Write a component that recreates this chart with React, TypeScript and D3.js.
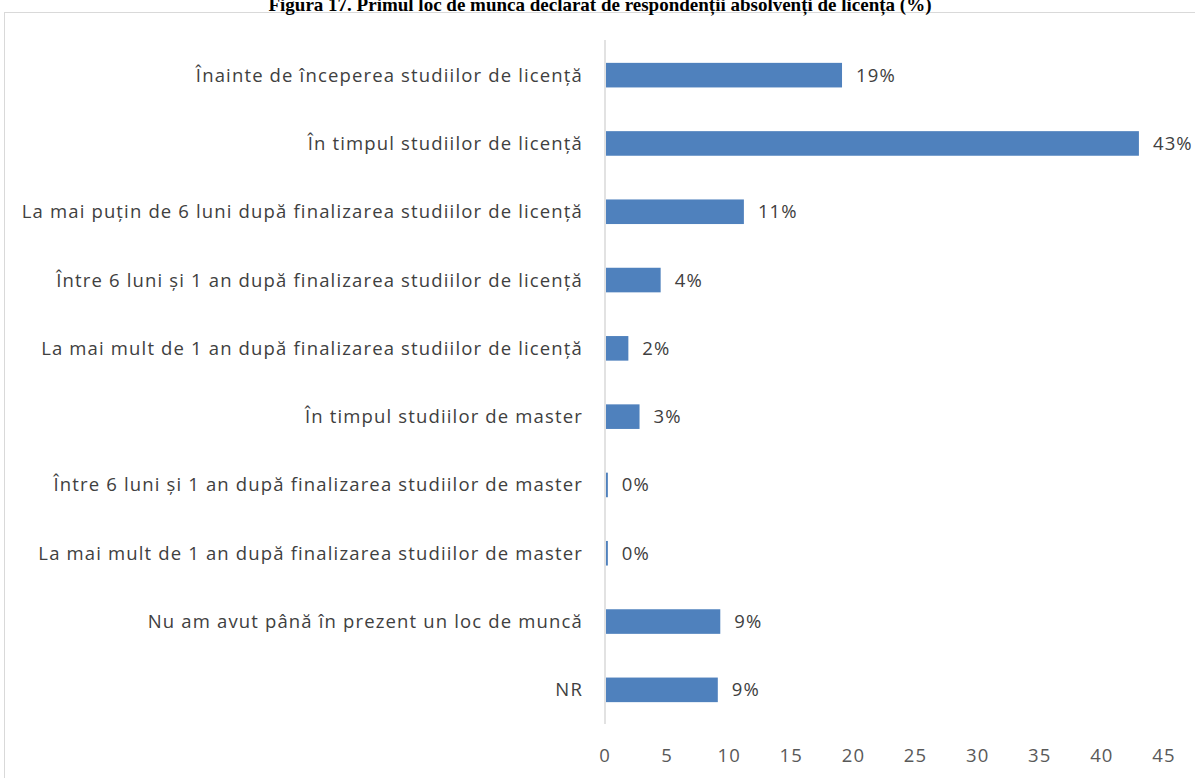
import React, { useRef, useEffect } from "react";
import * as d3 from "d3";

const categories = [
  "Înainte de începerea studiilor de licență",
  "În timpul studiilor de licență",
  "La mai puțin de 6 luni după finalizarea studiilor de licență",
  "Între 6 luni și 1 an după finalizarea studiilor de licență",
  "La mai mult de 1 an după finalizarea studiilor de licență",
  "În timpul studiilor de master",
  "Între 6 luni și 1 an după finalizarea studiilor de master",
  "La mai mult de 1 an după finalizarea studiilor de master",
  "Nu am avut până în prezent un loc de muncă",
  "NR",
];
const values = [19, 42.9, 11.1, 4.4, 1.8, 2.7, 0.15, 0.15, 9.2, 9.0];
const valueLabels = ["19%", "43%", "11%", "4%", "2%", "3%", "0%", "0%", "9%", "9%"];
const xTicks = [0, 5, 10, 15, 20, 25, 30, 35, 40, 45];
const title = "Figura 17. Primul loc de muncă declarat de respondenții absolvenți de licență (%)";

const W = 1195;
const H = 778;

const App: React.FC = () => {
  const svgRef = useRef<SVGSVGElement | null>(null);

  useEffect(() => {
    document.body.style.margin = "0";
    if (!svgRef.current) return;
    const svg = d3.select(svgRef.current);
    svg.selectAll("*").remove();

    const font = "18.5px 'Open Sans', sans-serif";
    const spacing = "1.15px";
    const x = d3.scaleLinear().domain([0, 45]).range([605, 1164]);
    const y = d3.scaleBand<string>().domain(categories).range([41, 724]).paddingInner(0.64).paddingOuter(0.32);

    svg.append("rect").attr("width", W).attr("height", H).attr("fill", "#fff");

    // chart frame (cut off on the right and bottom)
    svg.append("rect")
      .attr("x", 4.5).attr("y", 12.5)
      .attr("width", W + 10).attr("height", H)
      .attr("fill", "none").attr("stroke", "#d9d9d9");

    svg.append("text")
      .attr("x", 600).attr("y", 11)
      .attr("text-anchor", "middle")
      .style("font", "bold 19px 'Liberation Serif', serif")
      .text(title);

    // vertical axis line
    svg.append("line")
      .attr("x1", x(0)).attr("x2", x(0))
      .attr("y1", 40).attr("y2", 724)
      .attr("stroke", "#d9d9d9").attr("stroke-width", 1.5);

    svg.append("g")
      .selectAll("rect")
      .data(values)
      .enter().append("rect")
      .attr("x", x(0) + 1)
      .attr("y", (_, i) => y(categories[i])!)
      .attr("width", d => Math.max(1.5, x(d) - x(0)))
      .attr("height", y.bandwidth())
      .attr("fill", "#4f81bd");

    svg.append("g")
      .selectAll("text")
      .data(values)
      .enter().append("text")
      .attr("x", d => x(d) + 15)
      .attr("y", (_, i) => y(categories[i])! + y.bandwidth() / 2)
      .attr("dy", "0.35em")
      .attr("fill", "#404040")
      .style("font", font)
      .style("letter-spacing", spacing)
      .text((_, i) => valueLabels[i]);

    svg.append("g")
      .selectAll("text")
      .data(categories)
      .enter().append("text")
      .attr("x", 583)
      .attr("y", d => y(d)! + y.bandwidth() / 2)
      .attr("dy", "0.35em")
      .attr("text-anchor", "end")
      .attr("fill", "#404040")
      .style("font", font)
      .style("letter-spacing", spacing)
      .text(d => d);

    svg.append("g")
      .selectAll("text")
      .data(xTicks)
      .enter().append("text")
      .attr("x", d => x(d))
      .attr("y", 756)
      .attr("dy", "0.35em")
      .attr("text-anchor", "middle")
      .attr("fill", "#595959")
      .style("font", font)
      .style("letter-spacing", spacing)
      .text(d => d);
  }, []);

  return <svg ref={svgRef} width={W} height={H} style={{ display: "block" }}></svg>;
};

export default App;
